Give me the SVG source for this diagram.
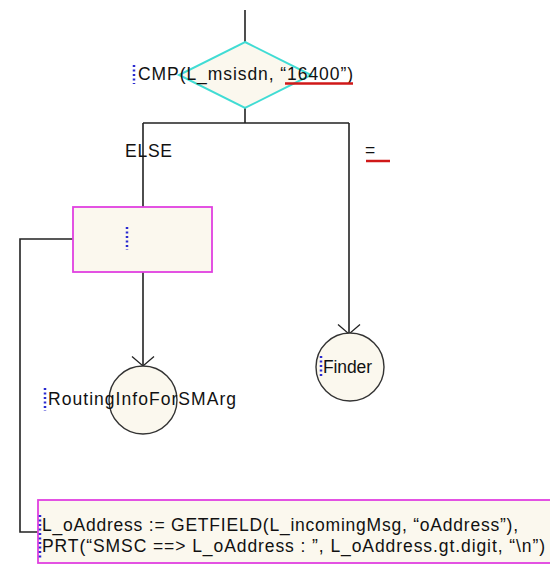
<svg xmlns="http://www.w3.org/2000/svg" width="550" height="566" viewBox="0 0 550 566">
<defs>
<marker id="arr" markerWidth="12" markerHeight="26" refX="10.5" refY="13" orient="auto" markerUnits="userSpaceOnUse">
<path d="M1,2 L10.5,13 L1,24" fill="none" stroke="#222" stroke-width="1.3"/>
</marker>
</defs>
<style>
.t{font-family:"Liberation Sans",Arial,sans-serif;font-size:17.5px;fill:#111}
.ln{fill:none;stroke:#222;stroke-width:1.6}
.dot{stroke:#2a2ad0;stroke-width:2.5;stroke-dasharray:2,2.5}
.circ{fill:#fbf8ee;stroke:#333;stroke-width:1.4}
.box{fill:#fbf8ee;stroke:#e040e0;stroke-width:1.8}
.red{stroke:#d01818;stroke-width:2.5}
</style>
<rect width="550" height="566" fill="#fff"/>
<g id="connectors">
<path class="ln" d="M245,10 V42"/>
<path class="ln" d="M245,108 V123 M143,123 H349 M143,123 V207"/>
<path class="ln" d="M349,123 V334" marker-end="url(#arr)"/>
<path class="ln" d="M143,272 V366" marker-end="url(#arr)"/>
<path class="ln" d="M73,239 H20 V532 H38"/>
<text class="t" x="125" y="157" textLength="47">ELSE</text>
<text class="t" x="365" y="156">=</text>
<path class="red" d="M366,161 H390"/>
</g>
<g id="cmp">
<polygon points="245,42 311,75 245,108 179,75" fill="#fbf8ee" stroke="#40dcd4" stroke-width="2"/>
<path class="dot" d="M134,65 V84"/>
<text class="t" x="138" y="80" font-size="18" textLength="215">CMP(L_msisdn, “16400”)</text>
<path class="red" d="M285,83.5 H353"/>
</g>
<g id="block">
<rect class="box" x="73" y="207" width="139" height="65"/>
<path class="dot" d="M127,227 V250"/>
</g>
<g id="routing">
<circle class="circ" cx="143" cy="400" r="34"/>
<path class="dot" d="M45,388 V411"/>
<text class="t" x="48" y="405" textLength="188">RoutingInfoForSMArg</text>
</g>
<g id="finder">
<circle class="circ" cx="350" cy="367" r="34"/>
<path class="dot" d="M321,356 V376"/>
<text class="t" x="323" y="373" textLength="49">Finder</text>
</g>
<g id="action">
<rect class="box" x="38" y="500" width="520" height="63"/>
<path class="dot" d="M40,515 V560"/>
<text class="t" x="42" y="531" textLength="476">L_oAddress := GETFIELD(L_incomingMsg, “oAddress”),</text>
<text class="t" x="42" y="552" textLength="503">PRT(“SMSC ==&gt; L_oAddress : ”, L_oAddress.gt.digit, “\n”)</text>
</g>
</svg>
